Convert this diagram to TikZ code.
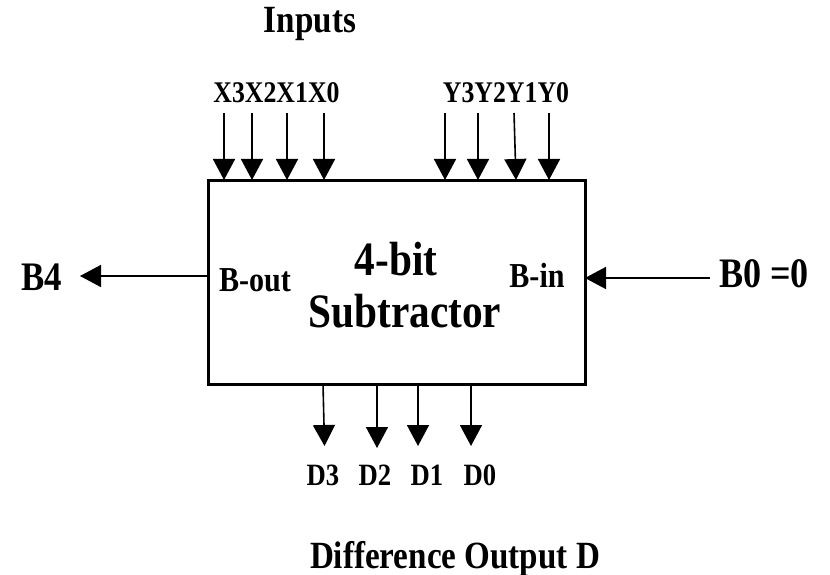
\documentclass[tikz,border=0pt]{standalone}
\usepackage{fontspec}
\setmainfont{Liberation Serif}[FakeStretch=0.86]
\usetikzlibrary{arrows.meta}
\newcommand{\fsz}[1]{\fontsize{#1}{#1}\selectfont\bfseries}
\begin{document}
\begin{tikzpicture}[x=1pt,y=-1pt,
  lbl/.style={inner sep=0pt,anchor=base},
  sig/.style={line width=1.6pt,-{Triangle[width=22pt,length=21pt]}},
  blk/.style={draw,line width=3pt,inner sep=0pt,outer sep=0pt,minimum width=377pt,minimum height=204pt}]
\useasboundingbox (0,0) rectangle (830,575);
% box
\node[blk] (box) at (396.5,282) {};
% titles
\node[lbl,font=\fsz{38.5}] (inputs) at (310,33) {Inputs};
\node[lbl,font=\fsz{30}] (xlab) at (276.5,103) {X3X2X1X0};
\node[lbl,font=\fsz{30}] (ylab) at (506,103) {Y3Y2Y1Y0};
\node[lbl,font=\fsz{48}] (t1) at (396,275) {4-bit};
\node[lbl,font=\fsz{48}] (t2) at (405,327) {Subtractor};
\node[lbl,font=\fsz{35}] (bout) at (255,291) {B-out};
\node[lbl,font=\fsz{35}] (bin) at (537,287) {B-in};
\node[lbl,font=\fsz{40.5}] (b4) at (42,290) {B4};
\node[lbl,font=\fsz{42}] (b0) at (764,287) {B0 =0};
\node[lbl,font=\fsz{31}] (d3) at (323,485) {D3};
\node[lbl,font=\fsz{31}] (d2) at (375,485) {D2};
\node[lbl,font=\fsz{31}] (d1) at (427,485) {D1};
\node[lbl,font=\fsz{31}] (d0) at (480,485) {D0};
\node[lbl,font=\fsz{38.5}] (diff) at (455,568) {Difference Output D};
% input arrow starts
\coordinate (x3) at (224,113);
\coordinate (x2) at (252,113);
\coordinate (x1) at (287,113);
\coordinate (x0) at (324,113);
\coordinate (y3) at (445,113);
\coordinate (y2) at (478,113);
\coordinate (y1) at (514,113);
\coordinate (y0) at (549,113);
\foreach \c in {x3,x2,x1,x0,y3,y2,y0}
  \draw[sig] (\c) -- (\c |- box.north);
\draw[sig] (y1) -- ([xshift=2pt]y1 |- box.north);
% output arrows
\coordinate (e3) at (324.5,446);
\coordinate (e2) at (377,448);
\coordinate (e1) at (418,446);
\coordinate (e0) at (471,446);
\draw[sig] (e3 |- box.south) ++(-1.5,0) -- (e3);
\foreach \c in {e2,e1,e0}
  \draw[sig] (\c |- box.south) -- (\c);
% borrow arrows
\coordinate (b4tip) at (80,276);
\coordinate (b0start) at (710,278);
\draw[sig] (b4tip -| box.west) -- (b4tip);
\draw[sig] (b0start) -- (b0start -| box.east);
\end{tikzpicture}
\end{document}
